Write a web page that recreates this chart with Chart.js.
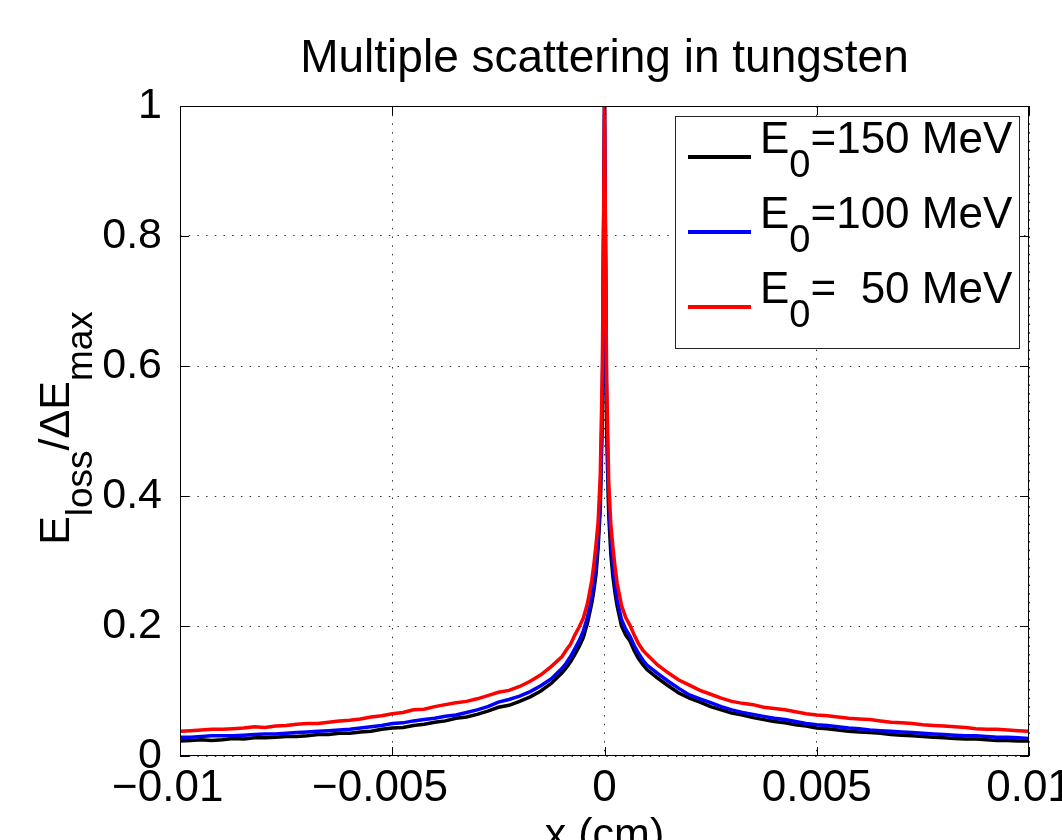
<!DOCTYPE html>
<html>
<head>
<meta charset="utf-8">
<title>Multiple scattering in tungsten</title>
<script src="https://cdn.jsdelivr.net/npm/chart.js@4/dist/chart.umd.min.js"></script>
<style>
  body { margin: 0; background: #fff; }
  #wrap { width: 1062px; height: 840px; }
</style>
</head>
<body>
<div id="wrap"><canvas id="myChart" width="1062" height="840"></canvas></div>
<script>
// x positions (cm)
const xValues = [
  -0.01000, -0.00975, -0.00950, -0.00925, -0.00900, -0.00875, -0.00850, -0.00825,
  -0.00800, -0.00775, -0.00750, -0.00725, -0.00700, -0.00675, -0.00650, -0.00625,
  -0.00600, -0.00575, -0.00550, -0.00525, -0.00500, -0.00475, -0.00450, -0.00425,
  -0.00400, -0.00375, -0.00350, -0.00325, -0.00300, -0.00275, -0.00250, -0.00225,
  -0.00200, -0.00175, -0.00150,
  -0.00125, -0.00100, -0.00090, -0.00080, -0.00070, -0.00060, -0.00050,
  -0.00040, -0.00030, -0.00025, -0.00020, -0.00015, -0.00010, -0.00005,
  0,
  0.00005, 0.00010, 0.00015, 0.00020, 0.00025, 0.00030, 0.00040,
  0.00050, 0.00060, 0.00070, 0.00080, 0.00090, 0.00100, 0.00125,
  0.00150, 0.00175, 0.00200,
  0.00225, 0.00250, 0.00275, 0.00300, 0.00325, 0.00350, 0.00375, 0.00400,
  0.00425, 0.00450, 0.00475, 0.00500, 0.00525, 0.00550, 0.00575, 0.00600,
  0.00625, 0.00650, 0.00675, 0.00700, 0.00725, 0.00750, 0.00775, 0.00800,
  0.00825, 0.00850, 0.00875, 0.00900, 0.00925, 0.00950, 0.00975, 0.01000
];

// E0 = 150 MeV
const e150 = [
  0.023, 0.024, 0.025, 0.024, 0.025, 0.027, 0.026, 0.028,
  0.028, 0.029, 0.030, 0.030, 0.031, 0.033, 0.033, 0.035,
  0.035, 0.037, 0.038, 0.041, 0.043, 0.044, 0.047, 0.049,
  0.052, 0.054, 0.058, 0.060, 0.064, 0.069, 0.075, 0.078,
  0.084, 0.091, 0.100,
  0.112, 0.128, 0.136, 0.145, 0.156, 0.168, 0.182,
  0.205, 0.235, 0.255, 0.280, 0.320, 0.380, 0.520,
  1.0,
  0.500, 0.370, 0.310, 0.275, 0.250, 0.230, 0.200,
  0.186, 0.177, 0.162, 0.150, 0.141, 0.133, 0.120,
  0.108, 0.097, 0.089,
  0.083, 0.076, 0.071, 0.066, 0.063, 0.059, 0.056, 0.053,
  0.051, 0.048, 0.046, 0.043, 0.042, 0.040, 0.038, 0.037,
  0.036, 0.035, 0.033, 0.032, 0.031, 0.030, 0.029, 0.028,
  0.027, 0.026, 0.026, 0.025, 0.024, 0.024, 0.023, 0.023
];

// E0 = 100 MeV
const e100 = [
  0.029, 0.029, 0.030, 0.031, 0.031, 0.031, 0.032, 0.033,
  0.034, 0.034, 0.035, 0.036, 0.037, 0.038, 0.039, 0.040,
  0.041, 0.043, 0.045, 0.047, 0.050, 0.051, 0.054, 0.056,
  0.058, 0.061, 0.063, 0.067, 0.071, 0.076, 0.083, 0.087,
  0.092, 0.099, 0.108,
  0.119, 0.135, 0.143, 0.153, 0.165, 0.177, 0.192,
  0.214, 0.245, 0.265, 0.295, 0.335, 0.400, 0.550,
  1.0,
  0.540, 0.390, 0.330, 0.290, 0.262, 0.240, 0.210,
  0.195, 0.184, 0.170, 0.158, 0.148, 0.140, 0.127,
  0.115, 0.104, 0.094,
  0.088, 0.082, 0.076, 0.071, 0.067, 0.064, 0.061, 0.058,
  0.056, 0.053, 0.050, 0.048, 0.047, 0.045, 0.043, 0.042,
  0.040, 0.039, 0.038, 0.037, 0.036, 0.035, 0.034, 0.033,
  0.032, 0.031, 0.031, 0.030, 0.029, 0.029, 0.028, 0.027
];

// E0 = 50 MeV
const e50 = [
  0.038, 0.039, 0.040, 0.041, 0.041, 0.042, 0.043, 0.045,
  0.044, 0.046, 0.047, 0.049, 0.050, 0.050, 0.052, 0.054,
  0.055, 0.057, 0.060, 0.062, 0.065, 0.067, 0.071, 0.072,
  0.076, 0.079, 0.082, 0.084, 0.088, 0.093, 0.098, 0.101,
  0.107, 0.115, 0.125,
  0.138, 0.153, 0.163, 0.172, 0.186, 0.198, 0.212,
  0.235, 0.270, 0.295, 0.325, 0.360, 0.430, 0.600,
  1.0,
  0.580, 0.420, 0.355, 0.320, 0.290, 0.265, 0.232,
  0.213, 0.201, 0.186, 0.173, 0.163, 0.156, 0.140,
  0.128, 0.117, 0.109,
  0.101, 0.095, 0.089, 0.084, 0.081, 0.079, 0.075, 0.073,
  0.071, 0.068, 0.065, 0.063, 0.062, 0.060, 0.058, 0.057,
  0.056, 0.054, 0.052, 0.051, 0.050, 0.048, 0.047, 0.046,
  0.045, 0.044, 0.042, 0.041, 0.041, 0.040, 0.039, 0.038
];

const xTickValues = [-0.01, -0.005, 0, 0.005, 0.01];
// negative labels carry trailing spaces so the number part sits centred on the tick
const xTickLabels = ['\u22120.01  ', '\u22120.005  ', '0', '0.005', '0.01'];
const yTickValues = [0, 0.2, 0.4, 0.6, 0.8, 1];
const yTickLabels = ['0', '0.2', '0.4', '0.6', '0.8', '1'];

const seriesColors = ['#000000', '#0000ff', '#ff0000'];
const seriesValues = [e150, e100, e50];
// legend text: E, subscript, rest
const legendSubs = ['0', '0', '0'];
const legendRest = ['=150 MeV', '=100 MeV', '=  50 MeV'];

const FONT = '"Liberation Sans", Arial, Helvetica, sans-serif';

function richWidth(ctx, parts, big, small) {
  let w = 0;
  parts.forEach(p => {
    ctx.font = (p.sub ? small : big) + 'px ' + FONT;
    w += ctx.measureText(p.t).width;
  });
  return w;
}

function drawRich(ctx, x, y, parts, big, small, drop) {
  let cx = x;
  parts.forEach(p => {
    ctx.font = (p.sub ? small : big) + 'px ' + FONT;
    ctx.fillText(p.t, cx, p.sub ? y + drop : y);
    cx += ctx.measureText(p.t).width;
  });
}

const overlay = {
  id: 'overlay',
  afterDraw(chart) {
    const ctx = chart.ctx;
    const a = chart.chartArea;
    const xs = chart.scales.x;
    const ys = chart.scales.y;
    ctx.save();
    ctx.fillStyle = '#000';
    ctx.textAlign = 'left';
    ctx.textBaseline = 'alphabetic';

    // legend box
    const lx = 675, ly = 116, lw = 344, lh = 232;
    ctx.fillStyle = '#fff';
    ctx.fillRect(lx, ly, lw, lh);
    ctx.strokeStyle = '#222';
    ctx.lineWidth = 1;
    ctx.strokeRect(lx + 0.5, ly + 0.5, lw, lh);
    for (let i = 0; i < 3; i++) {
      const rowY = 157 + i * 75;
      ctx.strokeStyle = seriesColors[i];
      ctx.lineWidth = 4;
      ctx.beginPath();
      ctx.moveTo(688, rowY);
      ctx.lineTo(751, rowY);
      ctx.stroke();
      ctx.fillStyle = '#000';
      drawRich(ctx, 760, rowY - 4, [
        {t: 'E'}, {t: legendSubs[i], sub: true}, {t: legendRest[i]}
      ], 44, 38, 24);
    }

    // axes box
    ctx.strokeStyle = '#000';
    ctx.lineWidth = 1;
    ctx.strokeRect(Math.round(a.left) + 0.5, Math.round(a.top) + 0.5,
      Math.round(a.right - a.left) - 1, Math.round(a.bottom - a.top) - 1);

    // inward ticks on all four sides
    ctx.beginPath();
    xTickValues.forEach(v => {
      const px = Math.round(xs.getPixelForValue(v)) + 0.5;
      ctx.moveTo(px, a.bottom); ctx.lineTo(px, a.bottom - 9);
      ctx.moveTo(px, a.top); ctx.lineTo(px, a.top + 9);
    });
    yTickValues.forEach(v => {
      const py = Math.round(ys.getPixelForValue(v)) + 0.5;
      ctx.moveTo(a.left, py); ctx.lineTo(a.left + 9, py);
      ctx.moveTo(a.right, py); ctx.lineTo(a.right - 9, py);
    });
    ctx.stroke();

    // title
    ctx.fillStyle = '#000';
    ctx.textAlign = 'center';
    ctx.font = '46px ' + FONT;
    ctx.fillText('Multiple scattering in tungsten', (a.left + a.right) / 2, 72);

    // x label (partly off the bottom edge)
    ctx.font = '43px ' + FONT;
    ctx.fillText('x (cm)', (a.left + a.right) / 2, 848);

    // y label, rotated, with subscripts
    const yParts = [{t: 'E'}, {t: 'loss', sub: true}, {t: '/\u0394E'}, {t: 'max', sub: true}];
    ctx.textAlign = 'left';
    ctx.translate(69, 428);
    ctx.rotate(-Math.PI / 2);
    const w = richWidth(ctx, yParts, 43, 37);
    drawRich(ctx, -w / 2, 0, yParts, 43, 37, 23);
    ctx.restore();
  }
};

const datasets = seriesValues.map((vals, i) => ({
  label: legendRest[i],
  data: xValues.map((x, j) => ({x: x, y: vals[j]})),
  borderColor: seriesColors[i],
  backgroundColor: seriesColors[i],
  borderWidth: 3.5,
  pointRadius: 0,
  tension: 0,
  fill: false,
  order: 3 - i
}));

const config = {
  type: 'line',
  data: { datasets },
  options: {
    responsive: false,
    animation: false,
    layout: { padding: { left: 0, right: 33, top: 106, bottom: 0 } },
    plugins: {
      legend: { display: false },
      title: { display: false },
      tooltip: { enabled: false }
    },
    scales: {
      x: {
        type: 'linear',
        min: -0.01,
        max: 0.01,
        afterBuildTicks: s => { s.ticks = xTickValues.map(v => ({value: v})); },
        afterFit: s => { s.height = 84; s.paddingLeft = 0; s.paddingRight = 0; },
        ticks: {
          callback: (v, i) => xTickLabels[i],
          color: '#000',
          font: { family: FONT, size: 44 },
          padding: 6,
          maxRotation: 0,
          autoSkip: false
        },
        grid: { color: '#333', lineWidth: 1, drawTicks: false },
        border: { display: false, dash: [1.5, 7.2] }
      },
      y: {
        min: 0,
        max: 1,
        afterBuildTicks: s => { s.ticks = yTickValues.map(v => ({value: v})); },
        afterFit: s => { s.width = 180; s.paddingTop = 0; s.paddingBottom = 0; },
        ticks: {
          callback: (v, i) => yTickLabels[i],
          color: '#000',
          font: { family: FONT, size: 43 },
          padding: 18,
          autoSkip: false
        },
        grid: { color: '#333', lineWidth: 1, drawTicks: false },
        border: { display: false, dash: [1.5, 7.2] }
      }
    }
  },
  plugins: [overlay]
};

var myChart = new Chart(document.getElementById('myChart'), config);
</script>
</body>
</html>
